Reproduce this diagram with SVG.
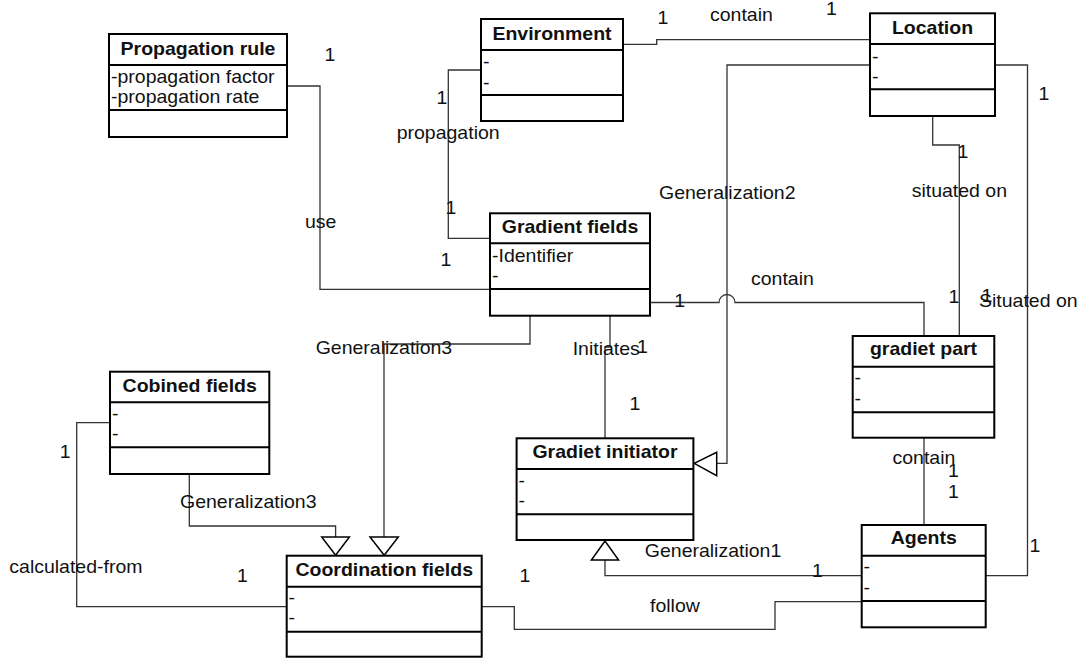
<svg xmlns="http://www.w3.org/2000/svg" width="1078" height="658" viewBox="0 0 1078 658">
  <style>
    .box { fill: #fff; stroke: #000; stroke-width: 2; }
    .sep { stroke: #000; stroke-width: 2; }
    .conn { fill: none; stroke: #333; stroke-width: 1.3; }
    .gen { fill: #fff; stroke: #000; stroke-width: 1.5; stroke-linejoin: miter; }
    text { font-family: "Liberation Sans", Arial, sans-serif; font-size: 17.5px; fill: #111; }
    .ttl { font-weight: bold; text-anchor: middle; }
    .mid { text-anchor: middle; }
  </style>
  <rect width="1078" height="658" fill="#fff"/>

  <!-- associations and generalizations -->
  <g id="connectors">
    <!-- Environment - Location : contain -->
    <polyline class="conn" points="623,44.3 656.7,44.3 656.7,39.7 870,39.7"/>
    <!-- Environment - Gradient fields : propagation -->
    <polyline class="conn" points="481,70 448.3,70 448.3,238.3 490,238.3"/>
    <!-- Propagation rule - Gradient fields : use -->
    <polyline class="conn" points="287,86 320,86 320,289.3 490,289.3"/>
    <!-- Gradient fields - gradiet part : contain (hops over Generalization2) -->
    <path class="conn" d="M650,302.5 H719 A8,8 0 0 1 735,302.5 H924 V336"/>
    <!-- Location - gradiet part : situated on -->
    <polyline class="conn" points="932.7,116 932.7,145 959.3,145 959.3,336"/>
    <!-- Location - Agents : Situated on -->
    <polyline class="conn" points="995,65 1027.5,65 1027.5,575.7 985.7,575.7"/>
    <!-- Generalization2 : Location -> Gradiet initiator -->
    <polyline class="conn" points="870,65 727,65 727,463.3 716.7,463.3"/>
    <polygon class="gen" points="694.2,463.3 716.7,452.3 716.7,475.7"/>
    <!-- Gradient fields - Gradiet initiator : Initiates -->
    <polyline class="conn" points="610,315.7 610,347 605,347 605,438.3"/>
    <!-- gradiet part - Agents : contain -->
    <line class="conn" x1="924" y1="437.7" x2="924" y2="525"/>
    <!-- Generalization1 : Agents -> Gradiet initiator -->
    <polyline class="conn" points="861.7,575.7 605,575.7 605,560"/>
    <polygon class="gen" points="605,541 591.4,560 618.6,560"/>
    <!-- Generalization3 : Gradient fields -> Coordination fields -->
    <polyline class="conn" points="530,315.7 530,344 384,344 384,537"/>
    <polygon class="gen" points="370,537 398.3,537 384.2,555.2"/>
    <!-- Generalization3 : Cobined fields -> Coordination fields -->
    <polyline class="conn" points="189.3,474 189.3,526 335.6,526 335.6,537"/>
    <polygon class="gen" points="321.7,537 349.4,537 335.6,555.2"/>
    <!-- Cobined fields - Coordination fields : calculated-from -->
    <polyline class="conn" points="110,422.7 76.7,422.7 76.7,606.7 286.7,606.7"/>
    <!-- Coordination fields - Agents : follow -->
    <polyline class="conn" points="481.7,606.7 514.3,606.7 514.3,629.3 775,629.3 775,601.7 861.7,601.7"/>
  </g>

  <g id="propagation-rule">
    <rect class="box" x="109" y="34" width="178" height="103"/>
    <line class="sep" x1="109" y1="65" x2="287" y2="65"/>
    <line class="sep" x1="109" y1="110" x2="287" y2="110"/>
    <text class="ttl" transform="translate(198 54.5) scale(1.114 1)">Propagation rule</text>
    <text transform="translate(111 82.5) scale(1.114 1)">-propagation factor</text>
    <text transform="translate(111 102.5) scale(1.114 1)">-propagation rate</text>
  </g>

  <g id="environment">
    <rect class="box" x="481" y="19" width="142" height="102"/>
    <line class="sep" x1="481" y1="50" x2="623" y2="50"/>
    <line class="sep" x1="481" y1="95" x2="623" y2="95"/>
    <text class="ttl" transform="translate(552 39.5) scale(1.114 1)">Environment</text>
    <text transform="translate(483 67.5) scale(1.114 1)">-</text>
    <text transform="translate(483 88.5) scale(1.114 1)">-</text>
  </g>

  <g id="location">
    <rect class="box" x="870" y="13.3" width="125" height="102.7"/>
    <line class="sep" x1="870" y1="44" x2="995" y2="44"/>
    <line class="sep" x1="870" y1="89.3" x2="995" y2="89.3"/>
    <text class="ttl" transform="translate(932.5 33.5) scale(1.114 1)">Location</text>
    <text transform="translate(872 62.5) scale(1.114 1)">-</text>
    <text transform="translate(872 82.5) scale(1.114 1)">-</text>
  </g>

  <g id="gradient-fields">
    <rect class="box" x="490" y="213.3" width="160" height="102.4"/>
    <line class="sep" x1="490" y1="243.3" x2="650" y2="243.3"/>
    <line class="sep" x1="490" y1="289" x2="650" y2="289"/>
    <text class="ttl" transform="translate(570 232.5) scale(1.114 1)">Gradient fields</text>
    <text transform="translate(492 261.5) scale(1.114 1)">-Identifier</text>
    <text transform="translate(492 281.5) scale(1.114 1)">-</text>
  </g>

  <g id="gradiet-part">
    <rect class="box" x="852.7" y="336" width="141.6" height="101.7"/>
    <line class="sep" x1="852.7" y1="366.7" x2="994.3" y2="366.7"/>
    <line class="sep" x1="852.7" y1="412.3" x2="994.3" y2="412.3"/>
    <text class="ttl" transform="translate(923.5 355) scale(1.114 1)">gradiet part</text>
    <text transform="translate(854.5 384) scale(1.114 1)">-</text>
    <text transform="translate(854.5 404.5) scale(1.114 1)">-</text>
  </g>

  <g id="cobined-fields">
    <rect class="box" x="110" y="371.7" width="159.3" height="102.3"/>
    <line class="sep" x1="110" y1="402.3" x2="269.3" y2="402.3"/>
    <line class="sep" x1="110" y1="447.3" x2="269.3" y2="447.3"/>
    <text class="ttl" transform="translate(189.7 391.7) scale(1.114 1)">Cobined fields</text>
    <text transform="translate(112 419.5) scale(1.114 1)">-</text>
    <text transform="translate(112 440) scale(1.114 1)">-</text>
  </g>

  <g id="gradiet-initiator">
    <rect class="box" x="516.6" y="438.3" width="176.8" height="101.7"/>
    <line class="sep" x1="516.6" y1="469" x2="693.4" y2="469"/>
    <line class="sep" x1="516.6" y1="514.3" x2="693.4" y2="514.3"/>
    <text class="ttl" transform="translate(605 458.3) scale(1.114 1)">Gradiet initiator</text>
    <text transform="translate(518.5 487) scale(1.114 1)">-</text>
    <text transform="translate(518.5 507) scale(1.114 1)">-</text>
  </g>

  <g id="coordination-fields">
    <rect class="box" x="286.7" y="555.7" width="195" height="101"/>
    <line class="sep" x1="286.7" y1="586.7" x2="481.7" y2="586.7"/>
    <line class="sep" x1="286.7" y1="631.7" x2="481.7" y2="631.7"/>
    <text class="ttl" transform="translate(384.2 576) scale(1.114 1)">Coordination fields</text>
    <text transform="translate(288.5 604) scale(1.114 1)">-</text>
    <text transform="translate(288.5 624) scale(1.114 1)">-</text>
  </g>

  <g id="agents">
    <rect class="box" x="861.7" y="525" width="124" height="102.3"/>
    <line class="sep" x1="861.7" y1="555.7" x2="985.7" y2="555.7"/>
    <line class="sep" x1="861.7" y1="601" x2="985.7" y2="601"/>
    <text class="ttl" transform="translate(923.7 544) scale(1.114 1)">Agents</text>
    <text transform="translate(863.5 573) scale(1.114 1)">-</text>
    <text transform="translate(863.5 594) scale(1.114 1)">-</text>
  </g>

  <!-- role names and multiplicities -->
  <g id="labels">
    <text transform="translate(710 21) scale(1.114 1)">contain</text>
    <text transform="translate(396.7 139) scale(1.114 1)">propagation</text>
    <text transform="translate(305 228.3) scale(1.114 1)">use</text>
    <text transform="translate(315.7 354) scale(1.114 1)">Generalization3</text>
    <text transform="translate(572.7 355) scale(1.114 1)">Initiates</text>
    <text transform="translate(659 199) scale(1.114 1)">Generalization2</text>
    <text transform="translate(911.7 197) scale(1.114 1)">situated on</text>
    <text transform="translate(751 285) scale(1.114 1)">contain</text>
    <text transform="translate(979 307) scale(1.114 1)">Situated on</text>
    <text transform="translate(892.5 463.5) scale(1.114 1)">contain</text>
    <text transform="translate(644.8 557.3) scale(1.114 1)">Generalization1</text>
    <text transform="translate(650 612.3) scale(1.114 1)">follow</text>
    <text transform="translate(180 508.3) scale(1.114 1)">Generalization3</text>
    <text transform="translate(9.3 573.3) scale(1.114 1)">calculated-from</text>

    <text class="mid" transform="translate(330 61) scale(1.114 1)">1</text>
    <text class="mid" transform="translate(442 104.3) scale(1.114 1)">1</text>
    <text class="mid" transform="translate(663 24) scale(1.114 1)">1</text>
    <text class="mid" transform="translate(831.5 15) scale(1.114 1)">1</text>
    <text class="mid" transform="translate(1044 100) scale(1.114 1)">1</text>
    <text class="mid" transform="translate(963 158.3) scale(1.114 1)">1</text>
    <text class="mid" transform="translate(451 214) scale(1.114 1)">1</text>
    <text class="mid" transform="translate(446 266) scale(1.114 1)">1</text>
    <text class="mid" transform="translate(642.5 353) scale(1.114 1)">1</text>
    <text class="mid" transform="translate(635 410) scale(1.114 1)">1</text>
    <text class="mid" transform="translate(679.7 306.7) scale(1.114 1)">1</text>
    <text class="mid" transform="translate(954 302.7) scale(1.114 1)">1</text>
    <text class="mid" transform="translate(987 302) scale(1.114 1)">1</text>
    <text class="mid" transform="translate(953.5 477) scale(1.114 1)">1</text>
    <text class="mid" transform="translate(953.5 498) scale(1.114 1)">1</text>
    <text class="mid" transform="translate(1035 551.7) scale(1.114 1)">1</text>
    <text class="mid" transform="translate(817.5 577) scale(1.114 1)">1</text>
    <text class="mid" transform="translate(525 582) scale(1.114 1)">1</text>
    <text class="mid" transform="translate(65.3 457.7) scale(1.114 1)">1</text>
    <text class="mid" transform="translate(242.5 582.3) scale(1.114 1)">1</text>
  </g>
</svg>
